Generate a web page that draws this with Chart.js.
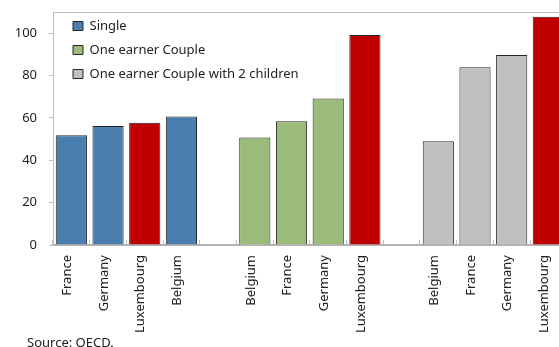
<!DOCTYPE html>
<html>
<head>
<meta charset="utf-8">
<script src="https://cdn.jsdelivr.net/npm/chart.js@4"></script>
<style>
  body { margin: 0; overflow: hidden; background: #fff; }
  #wrap { position: relative; width: 579px; height: 347px; }
  #source { position: absolute; left: 27px; top: 333px; font: 13px 'Noto Sans', sans-serif; color: #222; }
</style>
</head>
<body>
<div id="wrap">
  <canvas id="taxChart"></canvas>
  <div id="source">Source: OECD.</div>
</div>
<script>
// Values
const singleCountries = ['France', 'Germany', 'Luxembourg', 'Belgium'];
const singleValues = [51.8, 56.2, 57.7, 60.7];
const coupleCountries = ['Belgium', 'France', 'Germany', 'Luxembourg'];
const coupleValues = [50.8, 58.4, 69.2, 99.2];
const childrenCountries = ['Belgium', 'France', 'Germany', 'Luxembourg'];
const childrenValues = [49.0, 83.9, 89.7, 107.7];
const yTicks = [0, 20, 40, 60, 80, 100];

const blue = '#4a7eae', green = '#9bbb7a', grey = '#c0c0c0', red = '#c00000';

// one empty slot between the groups
const labels = [...singleCountries, '', ...coupleCountries, '', ...childrenCountries];
const pad = n => Array(n).fill(null);
const singleData = [...singleValues, ...pad(10)];
const coupleData = [...pad(5), ...coupleValues, ...pad(5)];
const childrenData = [...pad(10), ...childrenValues];

const colorFor = base => c => (c.type === 'data' && labels[c.dataIndex] === 'Luxembourg') ? red : base;

const frame = {
    id: 'frame',
    beforeDatasetsDraw(chart) {
        const a = chart.chartArea, ctx = chart.ctx;
        ctx.save();
        ctx.strokeStyle = '#bfbfbf';
        ctx.lineWidth = 1;
        ctx.beginPath();
        ctx.moveTo(a.left, a.top + 0.5);
        ctx.lineTo(a.right, a.top + 0.5);
        ctx.stroke();
        ctx.restore();
    },
    afterLayout(chart) {
        // put the legend inside the plot, top left, like the original
        chart.legend.left = chart.chartArea.left + 9;
        chart.legend.top = chart.chartArea.top - 3.5;
    }
};

const font = { family: "'Noto Sans', sans-serif", size: 13 };

new Chart(document.getElementById('taxChart'), {
    type: 'bar',
    data: {
        labels: labels,
        datasets: [
            { label: 'Single', data: singleData, backgroundColor: colorFor(blue) },
            { label: 'One earner Couple', data: coupleData, backgroundColor: colorFor(green) },
            { label: 'One earner Couple with 2 children', data: childrenData, backgroundColor: colorFor(grey) }
        ].map(d => Object.assign(d, {
            borderColor: '#262626',
            borderWidth: 1,
            borderSkipped: 'bottom',
            skipNull: true,
            categoryPercentage: 1,
            barPercentage: 0.85
        }))
    },
    options: {
        responsive: true,
        maintainAspectRatio: false,
        animation: false,
        layout: { padding: { top: 12, right: 0, left: 0, bottom: 0 } },
        scales: {
            x: {
                afterFit: s => { s.height = 102; },
                grid: { drawOnChartArea: false, drawTicks: true, tickLength: -5, color: '#bfbfbf' },
                border: { color: '#b3b3b3', width: 2 },
                ticks: { autoSkip: false, maxRotation: 90, minRotation: 90, padding: 15, labelOffset: -4, color: '#222', font: font }
            },
            y: {
                min: 0,
                max: 110,
                afterFit: s => { s.width = 53; s.paddingTop = 0; s.paddingBottom = 0; },
                afterBuildTicks: s => { s.ticks = yTicks.map(v => ({ value: v })); },
                grid: { drawOnChartArea: false, drawTicks: true, tickLength: 4, color: '#bfbfbf' },
                border: { color: '#bfbfbf' },
                ticks: { padding: 12, color: '#222', font: font }
            }
        },
        plugins: {
            legend: {
                position: 'chartArea',
                align: 'start',
                labels: { boxWidth: 10, boxHeight: 9, padding: 11, color: '#222', font: font }
            },
            tooltip: { enabled: false }
        }
    },
    plugins: [frame]
});
</script>
</body>
</html>
